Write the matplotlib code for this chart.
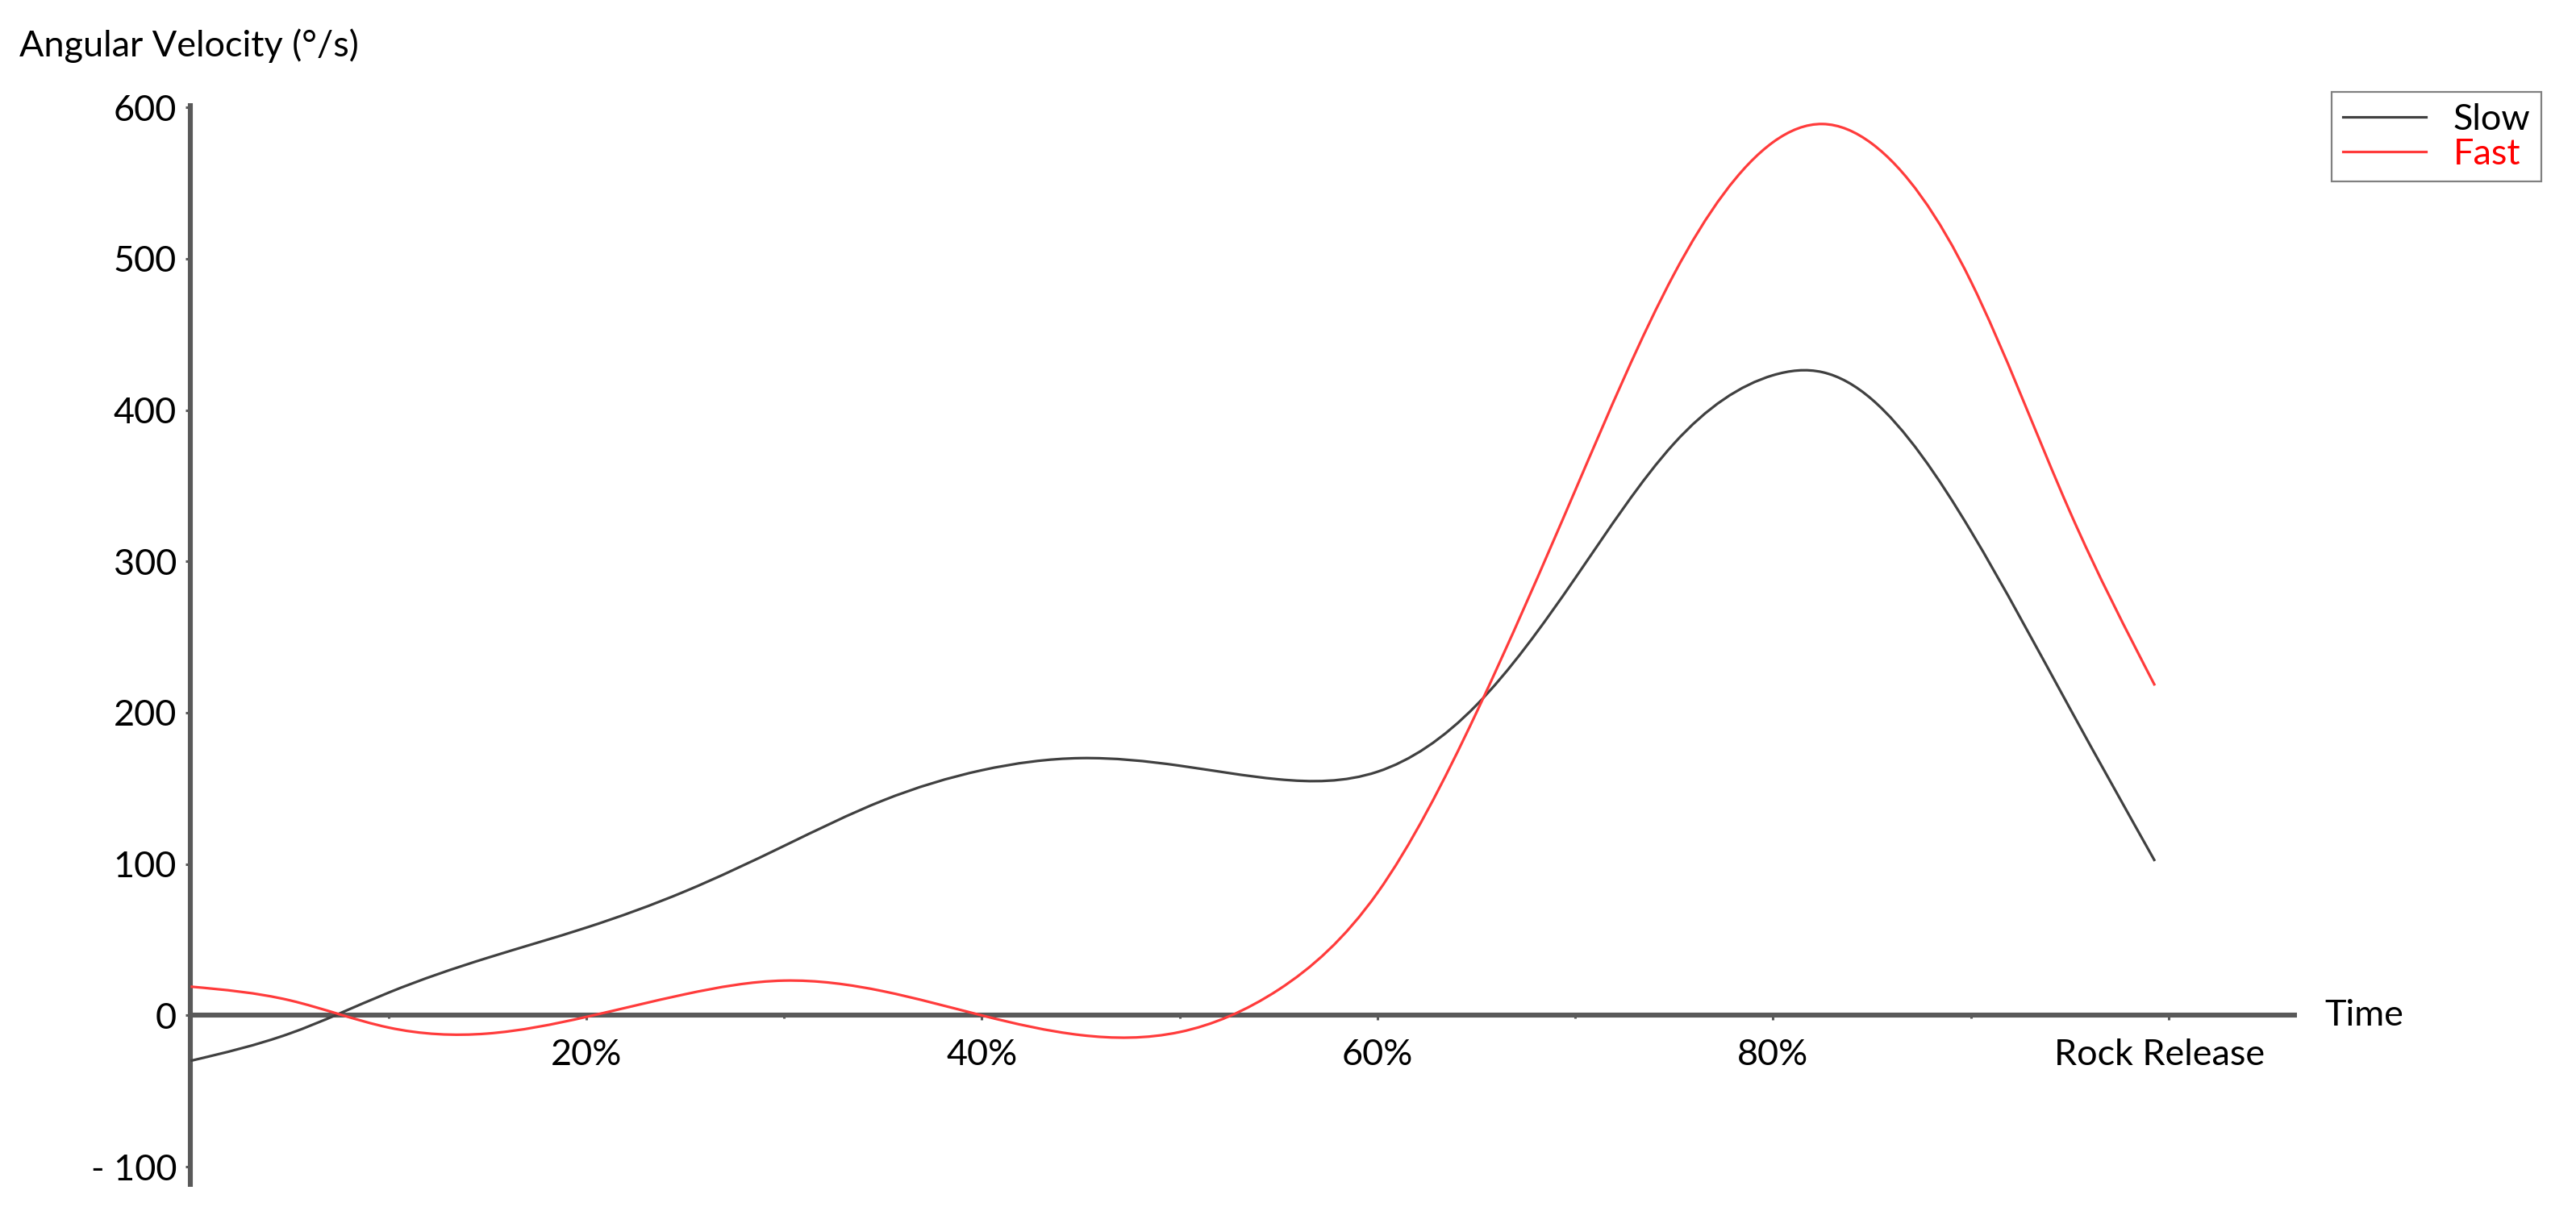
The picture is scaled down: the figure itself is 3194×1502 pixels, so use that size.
import numpy as np
import matplotlib.pyplot as plt
import matplotlib.transforms as mtransforms
from matplotlib.path import Path
from matplotlib.patches import PathPatch
from matplotlib.lines import Line2D

# percentage of the movement (x) and angular velocity in deg/s (y)
time_pct = [0, 5, 10, 15, 20, 25, 30, 35, 40, 45, 50, 55, 60, 65, 70, 75, 80, 82.5, 85, 90, 95, 99.3]
slow = [-30, -12, 15, 38, 58, 82, 112, 142, 162, 170, 165, 156, 161, 205, 289, 378, 423, 425, 407, 320, 203, 102]
fast = [19, 10, -8, -12, -1, 14, 23, 16, 0, -13, -11, 17, 81, 200, 347, 490, 577, 589, 576, 485, 333, 218]

major_ticks = [20, 40, 60, 80, 100]
major_labels = ["20%", "40%", "60%", "80%", "Rock Release"]
minor_ticks = [10, 30, 50, 70, 90]
y_ticks = [-100, 0, 100, 200, 300, 400, 500, 600]
y_labels = ["- 100", "0", "100", "200", "300", "400", "500", "600"]

AXIS_GREY = "#595959"
SLOW_COL = "#404040"
FAST_COL = "#ff3b3b"
FS = 16.2

plt.rcParams['font.family'] = ['Lato', 'DejaVu Sans']


def spline_slopes(xs, ys):
    """end slopes of a natural cubic spline (keeps the smoothed line free of kinks)"""
    x = np.asarray(xs, float)
    y = np.asarray(ys, float)
    n = len(x)
    h = np.diff(x)
    A = np.zeros((n, n))
    r = np.zeros(n)
    A[0, 0], A[0, 1] = 2, 1
    r[0] = 3 * (y[1] - y[0]) / h[0]
    A[-1, -2], A[-1, -1] = 1, 2
    r[-1] = 3 * (y[-1] - y[-2]) / h[-1]
    for i in range(1, n - 1):
        A[i, i - 1] = 1 / h[i - 1]
        A[i, i] = 2 * (1 / h[i - 1] + 1 / h[i])
        A[i, i + 1] = 1 / h[i]
        r[i] = 3 * ((y[i] - y[i - 1]) / h[i - 1] ** 2 + (y[i + 1] - y[i]) / h[i] ** 2)
    return np.linalg.solve(A, r)


def smooth_path(xs, ys):
    m = spline_slopes(xs, ys)
    verts = [(xs[0], ys[0])]
    codes = [Path.MOVETO]
    for i in range(len(xs) - 1):
        h = xs[i + 1] - xs[i]
        verts += [(xs[i] + h / 3, ys[i] + m[i] * h / 3),
                  (xs[i + 1] - h / 3, ys[i + 1] - m[i + 1] * h / 3),
                  (xs[i + 1], ys[i + 1])]
        codes += [Path.CURVE4] * 3
    return Path(verts, codes)


fig = plt.figure(figsize=(15.97, 7.51), dpi=200)
ax = fig.add_axes([0.074, 0.0203, 0.8178, 0.8948])
ax.set_xlim(0, 106.5)
ax.set_ylim(-113, 603)

for ys, col in [(slow, SLOW_COL), (fast, FAST_COL)]:
    ax.add_patch(PathPatch(smooth_path(time_pct, ys), facecolor='none',
                           edgecolor=col, linewidth=1.15, zorder=3))

ax.spines['top'].set_visible(False)
ax.spines['right'].set_visible(False)
ax.spines['bottom'].set_position(('data', 0))
for s in ['left', 'bottom']:
    ax.spines[s].set_linewidth(2.2)
    ax.spines[s].set_color(AXIS_GREY)
    ax.spines[s].set_capstyle('butt')

ax.set_xticks(major_ticks)
ax.set_xticklabels(major_labels)
ax.set_xticks(minor_ticks, minor=True)
ax.set_yticks(y_ticks)
ax.set_yticklabels(y_labels)
ax.tick_params(axis='x', which='major', direction='out', length=2.2, width=1.1,
               color=AXIS_GREY, labelsize=FS, pad=8)
ax.tick_params(axis='x', which='minor', direction='out', length=1.6, width=1.1,
               color=AXIS_GREY)
ax.tick_params(axis='y', direction='out', length=2.2, width=1.1,
               color=AXIS_GREY, labelsize=FS, pad=4)

# the last label sits a little left of its tick in the original
last = ax.get_xticklabels()[-1]
last.set_transform(last.get_transform() +
                   mtransforms.ScaledTranslation(-4 / 72, 0, fig.dpi_scale_trans))

ax.text(107.9, 0, "Time", ha='left', va='center', fontsize=FS)
fig.text(12 / 1568, 1 - 28 / 737, "Angular Velocity (°/s)", ha='left', va='center',
         fontsize=FS)

handles = [Line2D([], [], color=SLOW_COL, linewidth=1.15),
           Line2D([], [], color=FAST_COL, linewidth=1.15)]
leg = fig.legend(handles, ["Slow", "Fast"], loc='upper right',
                 bbox_to_anchor=(0.9866, 0.924), fontsize=FS, frameon=True,
                 fancybox=False, framealpha=1, edgecolor='#808080',
                 handlelength=2.3, handletextpad=0.75, labelspacing=0.05,
                 borderpad=0.3, borderaxespad=0)
leg.get_frame().set_linewidth(0.8)
leg.get_texts()[1].set_color('#ff0000')

fig.savefig("out.png", dpi=200)
